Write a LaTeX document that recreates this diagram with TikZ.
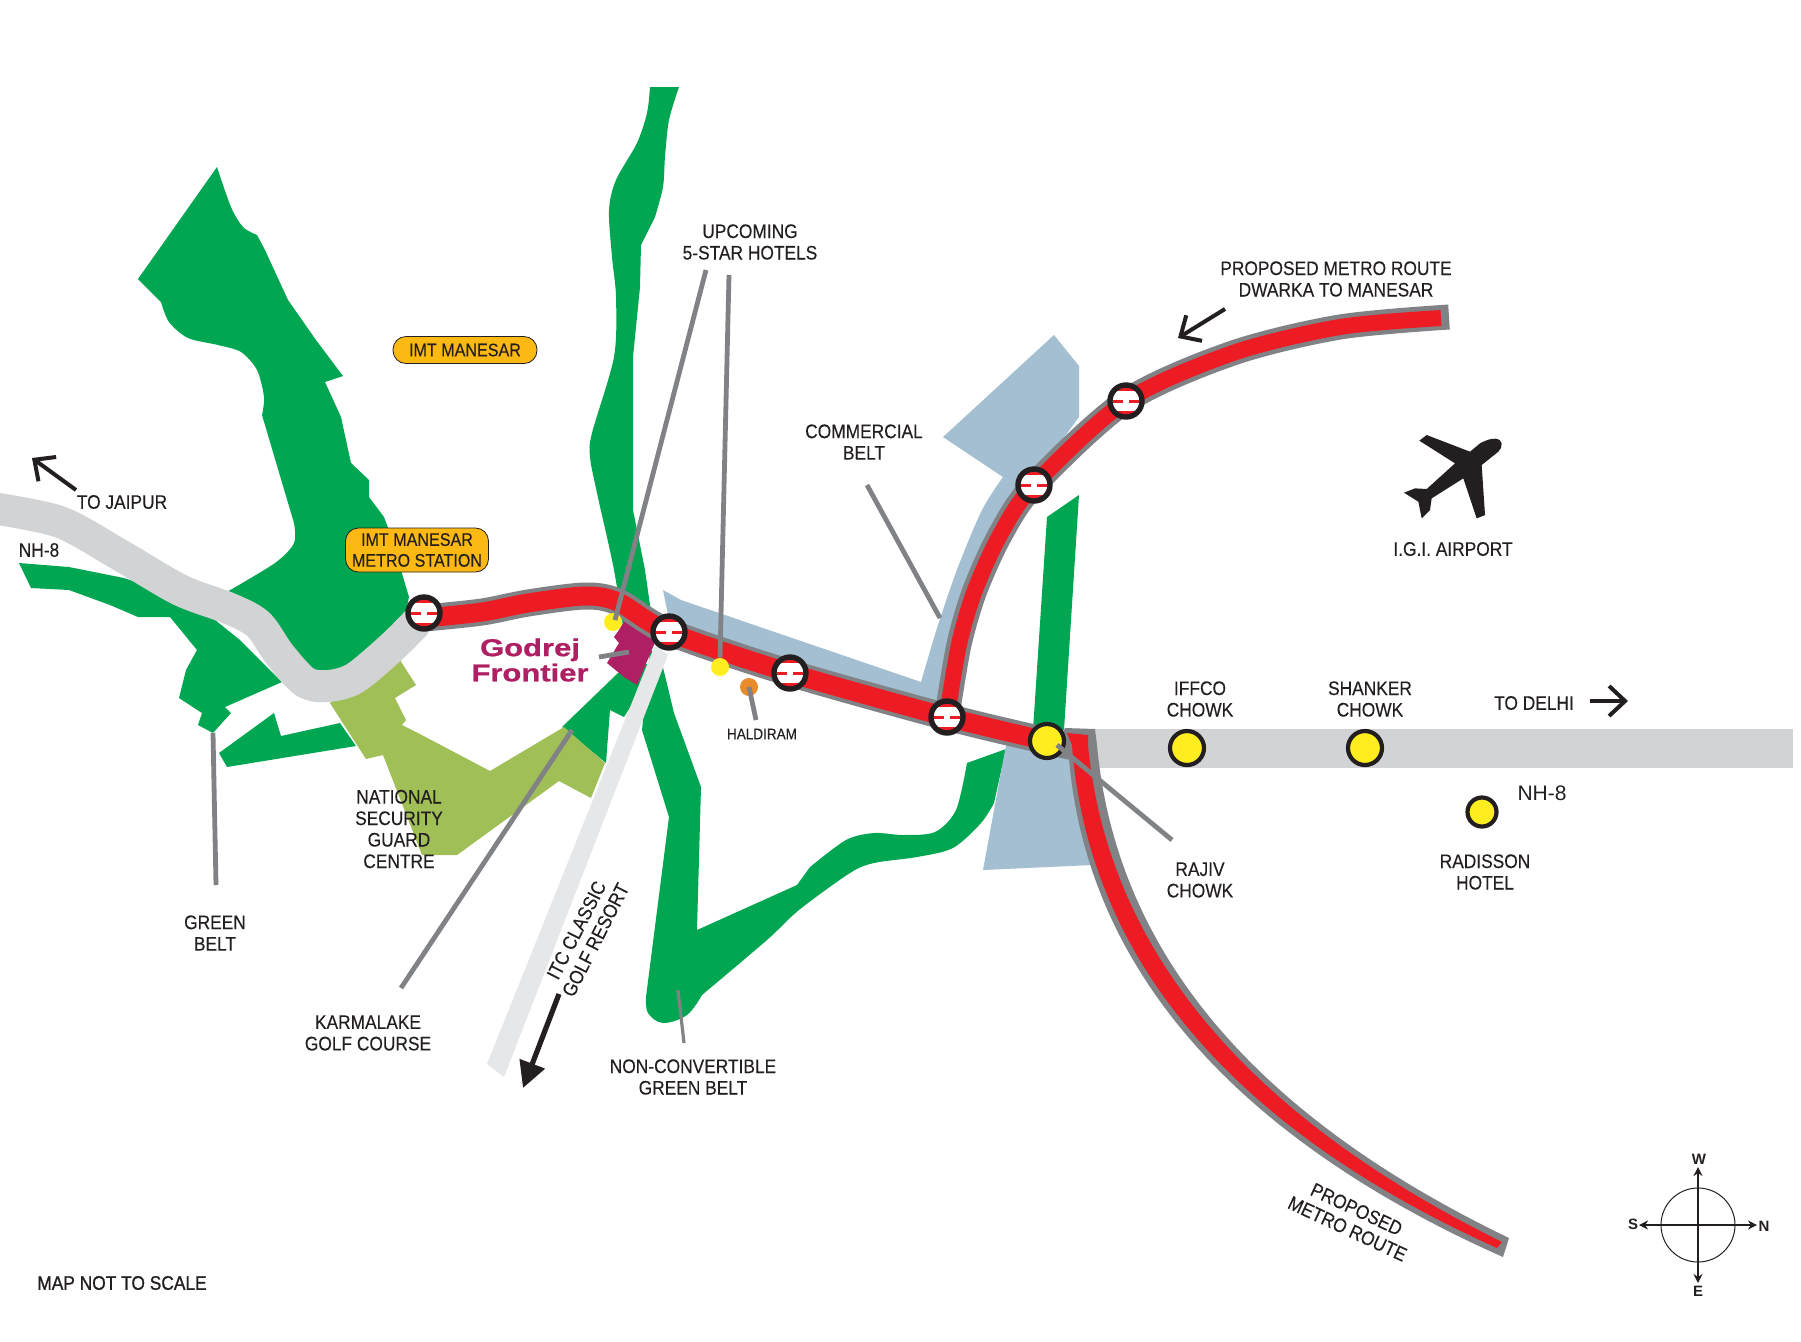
\documentclass[tikz,border=0pt]{standalone}
\usepackage{fontspec}
\setmainfont{Liberation Sans}[FakeStretch=0.885,FakeBold=0.2]
\newfontfamily\plainfont{Liberation Sans}
\newfontfamily\mapfont{Liberation Sans}[FakeStretch=0.885,FakeBold=1]
\newfontfamily\godrejfont{Liberation Sans}[FakeStretch=1.27,FakeBold=0.8]
\usetikzlibrary{arrows.meta}
\definecolor{gbelt}{HTML}{00A651}
\definecolor{lgreen}{HTML}{A0BF57}
\definecolor{lblue}{HTML}{A3BFD1}
\definecolor{mgrey}{HTML}{808285}
\definecolor{mred}{HTML}{ED1C24}
\definecolor{roadc}{HTML}{D1D3D4}
\definecolor{itcc}{HTML}{E6E7E8}
\definecolor{ycol}{HTML}{FFED1F}
\definecolor{ink}{HTML}{231F20}
\definecolor{orangec}{HTML}{E98B2A}
\definecolor{pillc}{HTML}{FDB913}
\definecolor{magc}{HTML}{AE1F63}
\tikzset{
  lbl/.style={text=ink,align=center,inner sep=0pt,font=\fontsize{9.8}{10.75}\selectfont},
  pill/.style={draw=ink,line width=0.4pt,fill=pillc,rounded corners=6.5pt,inner sep=0pt,text=ink,align=center,font=\fontsize{9.1}{10.4}\selectfont},
  leader/.style={draw=mgrey,line width=2.4pt},
  chowk/.style={circle,fill=ycol,draw=ink,line width=2.1pt,inner sep=0pt},
  dot/.style={circle,inner sep=0pt,minimum size=9pt},
  barbarrow/.style={draw=ink,line width=2pt,-{Straight Barb[length=8pt,width=15pt,line width=2pt]}},
  cmp/.style={text=ink,inner sep=0pt,font=\plainfont\bfseries\fontsize{7.5}{8}\selectfont},
}
\newcommand{\metrostop}[3]{%
  \begin{scope}[shift={(#2,#3)}]
    \fill[white] (0,0) circle (16);
    \begin{scope}
      \clip (0,0) circle (16);
      \fill[mred] (-18,-18) rectangle (18,-10);
      \fill[mred] (-18,10) rectangle (18,18);
      \fill[mred] (-13,-1.5) rectangle (-3,1.5);
      \fill[mred] (3,-1.5) rectangle (13,1.5);
    \end{scope}
  \end{scope}
  \node[circle,draw=ink,line width=2.7pt,minimum size=16pt,inner sep=0pt] (#1) at (#2,#3) {};
}
\begin{document}
\begin{tikzpicture}[x=0.5pt,y=-0.5pt]
\useasboundingbox (0,0) rectangle (1801,1341);
\fill[white] (0,0) rectangle (1801,1341);
% ---- green belts
\fill[gbelt] (217,167) -- (138,279) -- plot[smooth,tension=.5] coordinates {(161,302) (169,322) (188,338) (218,345) (241,352) (257,370) (264,397) (262,415)}
  -- plot[smooth,tension=.5] coordinates {(294,523) (294,543) (275,563) (225,593)} -- (255,620) -- (300,680) -- (330,680) -- (400,640) -- (409,597)
  -- (390,533) -- (384,517) -- (369,497) -- (369,480) -- (351,463) -- (341,417) -- (325,382) -- (343,376) -- (316,340) -- (288,300) -- (265,250)
  -- plot[smooth,tension=.5] coordinates {(257,235) (243,227) (231,207) (217,167)} -- cycle;
\fill[gbelt] (19,563) -- (69,567) -- (124,578) -- (190,600) -- (240,640) -- (282,682) -- (225,707) -- (231,713) -- (213,733) -- (198,725) -- (202,713) -- (179,698) -- (186,670) -- (197,650) -- (170,617) -- (138,617) -- (110,605) -- (69,590) -- (31,588) -- cycle;
\fill[gbelt] (219,753) -- (274,713) -- (281,736) -- (340,723) -- (356,746) -- (227,767) -- cycle;
\fill[gbelt] plot[smooth,tension=.5] coordinates {(650,87) (647,113) (637,143) (616,180) (609,210) (612,257) (616,297) (614,357) (592,433) (590,457) (597,493) (614,570) (625,640)}
  -- (655,640) -- (645,570) -- (633,510) -- (633,357) -- (640,287) -- (641,245)
  -- plot[smooth,tension=.5] coordinates {(655,217) (663,187) (665,157) (669,120) (679,87)} -- cycle;
\fill[gbelt] (618,673) -- (562,727) -- (606,763) -- (610,710) -- (624,717) -- (660,660) -- cycle;
\fill[gbelt] (660,655) -- (674,713) -- (701,787) -- (697,930)
  -- (797,885) -- plot[smooth,tension=.5] coordinates {(810,867) (846,840) (874,833) (903,835) (935,832) (956,810) (967,763)}
  -- (1006,749) -- plot[smooth,tension=.5] coordinates {(994,803) (981,823) (953,848) (917,857) (874,863) (850,873) (799,910) (767,940) (702,995)}
  -- plot[smooth,tension=.6] coordinates {(702,995) (687,1015) (663,1023) (648,1013) (646,997)}
  -- (669,817) -- (642,730) -- (650,650) -- cycle;
\fill[gbelt] (1079,495) -- (1047,517) -- (1033,730) -- (1064,730) -- cycle;
% ---- security guard centre
\fill[lgreen] (398,657) -- (416,685) -- (395,698) -- (406,720) -- (402,725) -- (418,733) -- (490,771) -- (564,727) -- (605,763) -- (591,798) -- (559,781) -- (457,855) -- (422,855) -- (383,755) -- (366,759) -- (330,703) -- (360,680) -- cycle;
% ---- commercial belt
\fill[lblue] (663,590) -- (681,600) -- (921,682) -- plot[smooth,tension=.5] coordinates {(921,682) (938,625) (958,567) (982,510) (1003,477)} -- (943,437) -- (1054,335) -- (1079,366) -- (1079,417) -- (1040,470) -- (1000,520) -- (975,580) -- (960,640) -- (950,710) -- (800,670) -- (671,630) -- cycle;
\fill[lblue] (1006,745) -- (983,870) -- (1092,865) -- (1075,770) -- (1070,745) -- cycle;
% ---- NH-8 and ITC road
\draw[roadc,line width=16pt] plot[smooth,tension=.5] coordinates {(-8,508) (60,522) (120,555) (180,590) (228,608) (258,624) (280,655) (305,682) (328,686) (355,678) (392,647) (417,622)};
\fill[roadc] (1095,729) rectangle (1793,768);
% ---- Godrej plot
\fill[magc] (626,618) -- (619,630) -- (614,637) -- (619,643) -- (607,663) -- (624,677) -- (637,685) -- (656,640) -- (646,632) -- cycle;
\fill[itcc] (655,645) -- (668,655) -- (504,1077) -- (487,1064) -- cycle;
% ---- metro
\fill[mgrey] (1065,728) -- (1095,729) -- (1097,745) .. controls (1118,975) and (1285,1130) .. (1509,1238)
  -- (1503,1257) .. controls (1262,1150) and (1082,985) .. (1068,745) -- (1060,740) -- cycle;
\draw[mgrey,line width=12.5pt] plot[smooth,tension=.5] coordinates {(947,717) (951,690) (960,640) (975,590) (1000,535) (1034,485) (1126,401) (1233,353) (1340,327) (1449,317)};
\draw[mgrey,line width=13.5pt] plot[smooth,tension=.5] coordinates {(425,618) (482,612) (528,603) (585,596) (618,602) (669,632) (790,673) (947,717) (1047,741) (1075,747)};
\draw[mred,line width=8pt] plot[smooth,tension=.5] coordinates {(947,717) (951,690) (960,640) (975,590) (1000,535) (1034,485) (1126,401) (1233,353) (1340,327) (1441,318)};
\draw[mred,line width=9.5pt] plot[smooth,tension=.5] coordinates {(425,618) (482,612) (528,603) (585,596) (618,602) (669,632) (790,673) (947,717) (1047,741)};
\fill[mred] (1067,733) -- (1088,735) -- (1088,745) .. controls (1110,975) and (1280,1132) .. (1502,1242)
  -- (1497,1248) .. controls (1268,1145) and (1090,985) .. (1072,745) -- cycle;
% ---- places on the map
\node[dot,fill=ycol] (hotelA) at (613,622) {};
\coordinate (hotelAtop) at (706,270);
\coordinate (hotelBtop) at (729,275);
\draw[leader] (hotelAtop) -- (615,620);
\node[dot,fill=ycol] (hotelB) at (720,667) {};
\draw[leader] (hotelBtop) -- (hotelB.north);
\node[dot,fill=orangec] (haldiram) at (749,687) {};
\coordinate (haldiramend) at (756,720);
\draw[leader] (haldiram.center) -- (haldiramend);
\coordinate (gbA) at (213,733); \coordinate (gbB) at (216,885);
\draw[leader] (gbA) -- (gbB);
\coordinate (kgA) at (572,730); \coordinate (kgB) at (401,988);
\draw[leader] (kgA) -- (kgB);
\coordinate (goA) at (599,657); \coordinate (goB) at (629,652);
\draw[leader] (goA) -- (goB);
\coordinate (cbA) at (867,485); \coordinate (cbB) at (940,618);
\draw[leader] (cbA) -- (cbB);
\coordinate (ncA) at (678,990); \coordinate (ncB) at (684,1043);
\draw[draw=mgrey,line width=1.6pt] (ncA) -- (ncB);
\metrostop{st0}{424}{613}
\metrostop{st1}{669}{632}
\metrostop{st2}{790}{673}
\metrostop{st3}{947}{717}
\metrostop{st4}{1034}{485}
\metrostop{st5}{1126}{401}
\node[chowk,minimum size=17pt] (rajiv) at (1047,741) {};
\node[chowk,minimum size=17pt] (iffco) at (1187,748) {};
\node[chowk,minimum size=17pt] (shanker) at (1365,748) {};
\node[chowk,minimum size=14.5pt] (radisson) at (1482,812) {};
\coordinate (rjB) at (1172,840);
\draw[leader] (1057,745) -- (rjB);
% ---- plane
\fill[ink,shift={(1380,410)},x=0.1667pt,y=-0.1667pt] (365,100) .. controls (362,85) and (340,78) .. (300,100) -- (270,125) -- (140,75) -- (118,92) -- (225,160) -- (140,237) -- (105,235) -- (72,248) -- (115,275) -- (125,325) -- (150,300) -- (155,265) -- (250,205) -- (290,325) -- (315,315) -- (305,165) -- (355,125) .. controls (362,118) and (366,110) .. (365,100) -- cycle;
% ---- labels
\node[lbl] (upcoming) at (750,242) {UPCOMING\\5-STAR HOTELS};
\node[pill,minimum width=72pt,minimum height=13.5pt] (imt) at (465,350) {IMT MANESAR};
\node[pill,minimum width=71.5pt,minimum height=22pt] (imtst) at (417,550) {IMT MANESAR\\METRO STATION};
\node[lbl] (jaipur) at (122,502) {TO JAIPUR};
\node[lbl] (nhw) at (39,550) {NH-8};
\coordinate (jpA) at (76,490); \coordinate (jpB) at (32,458);
\draw[barbarrow] (jpA) -- (jpB);
\node[lbl] (nsg) at (399,829) {NATIONAL\\SECURITY\\GUARD\\CENTRE};
\node[lbl] (greenbelt) at (215,933) {GREEN\\BELT};
\node[lbl] (karma) at (368,1033) {KARMALAKE\\GOLF COURSE};
\node[lbl,rotate=63] (itc) at (586,935) {ITC CLASSIC\\GOLF RESORT};
\coordinate (itA) at (559,994); \coordinate (itB) at (523,1088);
\draw[draw=ink,line width=2.6pt,-{Triangle[length=13pt,width=13pt]}] (itA) -- (itB);
\node[lbl] (nonconv) at (693,1077) {NON-CONVERTIBLE\\GREEN BELT};
\node[lbl,font=\fontsize{7.65}{9}\selectfont] (hald) at (762,734) {HALDIRAM};
\node[lbl] (comm) at (864,442) {COMMERCIAL\\BELT};
\node[lbl] (prop) at (1336,279) {PROPOSED METRO ROUTE\\DWARKA TO MANESAR};
\coordinate (prA) at (1225,309); \coordinate (prB) at (1178,338);
\draw[barbarrow] (prA) -- (prB);
\node[lbl] (igi) at (1453,549) {I.G.I. AIRPORT};
\node[lbl] (iffcot) at (1200,699) {IFFCO\\CHOWK};
\node[lbl] (shankert) at (1370,699) {SHANKER\\CHOWK};
\node[lbl] (delhi) at (1534,703) {TO DELHI};
\coordinate (deA) at (1590,701); \coordinate (deB) at (1628,701);
\draw[barbarrow] (deA) -- (deB);
\node[lbl,font=\plainfont\fontsize{10.5}{12}\selectfont] (nhe) at (1542,793) {NH-8};
\node[lbl] (radt) at (1485,872) {RADISSON\\HOTEL};
\node[lbl] (rajt) at (1200,880) {RAJIV\\CHOWK};
\node[lbl,rotate=-25] (propt) at (1352,1219) {PROPOSED\\METRO ROUTE};
\node[lbl,font=\mapfont\fontsize{9.8}{10.75}\selectfont] (mapnote) at (122,1283) {MAP NOT TO SCALE};
\node[text=magc,inner sep=0pt,align=center,font=\godrejfont\bfseries\fontsize{12.2}{12.6}\selectfont] (godrej) at (530,660) {Godrej\\Frontier};
% ---- compass
\node[circle,draw=ink,line width=0.5pt,minimum size=37pt,inner sep=0pt] (rose) at (1698,1225) {};
\coordinate (cN) at (1698,1167); \coordinate (cS) at (1698,1283);
\coordinate (cW) at (1639,1225); \coordinate (cE) at (1757,1225);
\draw[draw=ink,line width=1pt,{Stealth[length=4.5pt,width=4.5pt]}-{Stealth[length=4.5pt,width=4.5pt]}] (cN) -- (cS);
\draw[draw=ink,line width=1pt,{Stealth[length=4.5pt,width=4.5pt]}-{Stealth[length=4.5pt,width=4.5pt]}] (cW) -- (cE);
\node[cmp] (cmpW) at (1699,1159) {W};
\node[cmp] (cmpE) at (1698,1291) {E};
\node[cmp] (cmpS) at (1633,1224) {S};
\node[cmp] (cmpN) at (1764,1226) {N};
\end{tikzpicture}
\end{document}
